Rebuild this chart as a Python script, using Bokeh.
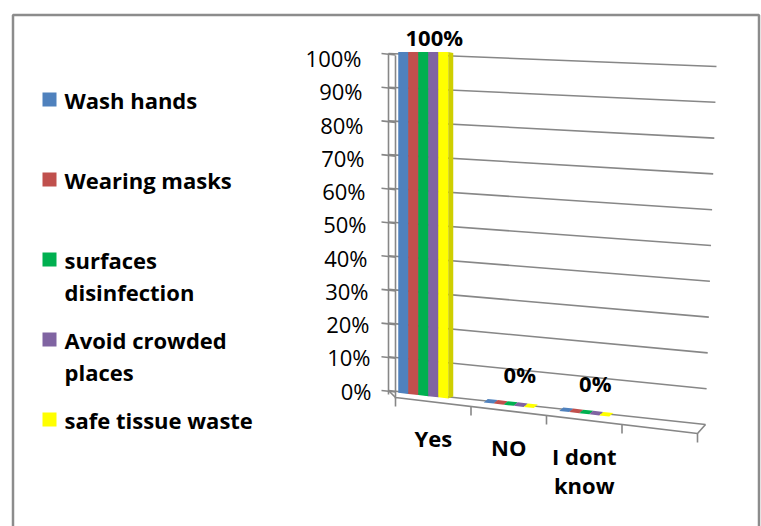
import textwrap

from bokeh.plotting import figure
from bokeh.models import Range1d
from bokeh.core.properties import value
from bokeh.embed import file_html
from bokeh.resources import INLINE

# ---------------------------------------------------------------- data
categories = ["Yes", "NO", "I dont know"]
series_names = [
    "Wash hands",
    "Wearing masks",
    "surfaces disinfection",
    "Avoid crowded places",
    "safe tissue waste",
]
wash_hands = [100, 0, 0]
wearing_masks = [100, 0, 0]
surfaces_disinfection = [100, 0, 0]
avoid_crowded_places = [100, 0, 0]
safe_tissue_waste = [100, 0, 0]
series_values = [wash_hands, wearing_masks, surfaces_disinfection,
                 avoid_crowded_places, safe_tissue_waste]

y_ticks = list(range(0, 101, 10))
y_tick_labels = [f"{t}%" for t in y_ticks]

# ---------------------------------------------------------------- styling
front_colors = ["#4F81BD", "#C0504D", "#00B050", "#8064A2", "#FFFF00"]
side_colors = ["#3B6590", "#953A38", "#008A3E", "#62497F", "#CFCF00"]
grid_color = "#878787"
font = value("Open Sans")

# ---------------------------------------------------------------- layout
W, H = 761, 526
SLOT0_PX = 395.0      # left end of the category floor
SLOT_PX = 75.5        # width of one category slot
BASE_PX = 390.0       # 0% on the back wall
PCT_PX = 3.37         # one percent on the back wall
N_SLOTS = len(categories) + 1   # floor keeps one spare slot on the right


def ux(px):
    return (px - SLOT0_PX) / SLOT_PX


def uy(px):
    return (BASE_PX - px) / PCT_PX


def dx(px):
    return px / SLOT_PX


def dy(px):
    return px / PCT_PX


def floor_y(s):
    """Middle of the floor depth at slot position s."""
    return uy(392.0 + 8.5 * s)


def front_y(s):
    """Front edge of the floor at slot position s."""
    return uy(397.0 + 9.0 * s)


p = figure(
    width=W, height=H,
    x_range=Range1d(ux(0), ux(W)),
    y_range=Range1d(uy(H), uy(0)),
    x_axis_type=None, y_axis_type=None,
    output_backend="svg", toolbar_location=None,
    min_border=0, outline_line_color=None,
    background_fill_color="white", border_fill_color="white",
)
p.grid.visible = False

# outer chart border (bottom edge runs off the page)
p.line(x=[ux(12.5), ux(12.5), ux(758.5), ux(758.5)],
       y=[uy(H + 10), uy(14.5), uy(14.5), uy(H + 10)],
       line_color="#8C8C8C", line_width=2.5)

# ---------------------------------------------------------------- back wall
gx0, gy0, gx1, gy1 = [], [], [], []
for t in y_ticks:
    gx0.append(ux(388))
    gy0.append(t)
    gx1.append(ux(705 + 11 * t / 100))
    gy1.append(t - dy(34 - 21 * t / 100))
p.segment(x0=gx0, y0=gy0, x1=gx1, y1=gy1, line_color=grid_color, line_width=1.6)

# side wall: two vertical edges and tick marks
p.segment(x0=[ux(388), ux(395)], y0=[uy(394), uy(398)],
          x1=[ux(388), ux(395)], y1=[100, 100 - dy(2)],
          line_color=grid_color, line_width=1.6)
p.segment(x0=[ux(381)] * len(y_ticks), y0=y_ticks,
          x1=[ux(395)] * len(y_ticks), y1=[t - dy(1.5) for t in y_ticks],
          line_color=grid_color, line_width=1.6)

p.text(x=[ux(371 - 10 * t / 100) for t in y_ticks],
       y=[t - dy(4.5 * t / 100) for t in y_ticks],
       text=y_tick_labels, text_font=font, text_font_size="22px",
       text_align="right", text_baseline="middle", text_color="black")

# ---------------------------------------------------------------- floor
p.line(x=[ux(388), 0, N_SLOTS, ux(705)],
       y=[uy(390), front_y(0), front_y(N_SLOTS), uy(424)],
       line_color=grid_color, line_width=1.6)
slots = list(range(N_SLOTS + 1))
p.segment(x0=slots, y0=[front_y(s) for s in slots],
          x1=slots, y1=[front_y(s) - dy(9) for s in slots],
          line_color=grid_color, line_width=1.6)

# ---------------------------------------------------------------- bars
BAR_W = dx(10)
LEAN = dx(10) / 100         # taller groups sit slightly further left
BAR_SCALE = 1.02
DEPTH_DX, DEPTH_DY = dx(5), dy(2)
TOP_DX, TOP_DY = dx(4), dy(3.5)

order = []
label_x, label_y, label_t = [], [], []

n_series = len(series_values)
for c in range(len(categories)):
    for i, vals in enumerate(series_values):
        v = vals[c]
        gc = c + 0.5 - LEAN * v
        x0 = gc - n_series / 2 * BAR_W + i * BAR_W
        x1 = x0 + BAR_W
        h = v * BAR_SCALE
        f = v / 100

        def top(x):
            return floor_y(x) + h - (floor_y(x) - floor_y(gc)) * f

        b0, b1 = floor_y(x0), floor_y(x1)
        t0, t1 = top(x0), top(x1)
        if v > 0:
            order.append(([x0, x1, x1, x0], [b0, b1, t1, t0], front_colors[i]))
            order.append(([x1, x1 + DEPTH_DX, x1 + DEPTH_DX, x1],
                          [b1, b1 + DEPTH_DY, t1 - DEPTH_DY * 0.5, t1], side_colors[i]))
        depth = 1 - f
        if depth > 0:
            order.append(([x0, x1, x1 + TOP_DX * depth, x0 + TOP_DX * depth],
                          [t0, t1, t1 + TOP_DY * depth, t0 + TOP_DY * depth],
                          front_colors[i]))
    # one value label per category, taken from the middle series
    mid = n_series // 2
    v = series_values[mid][c]
    gc = c + 0.5 - LEAN * v
    label_x.append(gc + dx(11))
    label_y.append(floor_y(gc) + v * BAR_SCALE + dy(31 - 0.16 * v))
    label_t.append(f"{v}%")

p.patches(xs=[o[0] for o in order], ys=[o[1] for o in order],
          fill_color=[o[2] for o in order], line_color=None)

p.text(x=label_x, y=label_y, text=label_t, text_font=font,
       text_font_size="22px", text_font_style="bold",
       text_align="center", text_baseline="middle", text_color="black")

# ---------------------------------------------------------------- category labels
cat_x = [c + 0.5 for c in range(len(categories))]
p.text(x=cat_x, y=[front_y(s) - dy(21) for s in cat_x],
       text=[textwrap.fill(cat, 8) for cat in categories],
       text_font=font, text_font_size="22px", text_font_style="bold",
       text_align="center", text_baseline="top", text_line_height=0.98,
       text_color="black")

# ---------------------------------------------------------------- legend
rows = [99 + 80 * i for i in range(n_series)]
p.scatter(x=[ux(49)] * n_series, y=[uy(r) for r in rows], marker="square",
          size=14, fill_color=front_colors, line_color=None)
p.text(x=[ux(64)] * n_series, y=[uy(r - 15) for r in rows],
       text=[textwrap.fill(n, 17) for n in series_names],
       text_font=font, text_font_size="22px", text_font_style="bold",
       text_align="left", text_baseline="top", text_line_height=1.08,
       text_color="black")

open("out.html", "w").write(file_html(p, INLINE))
